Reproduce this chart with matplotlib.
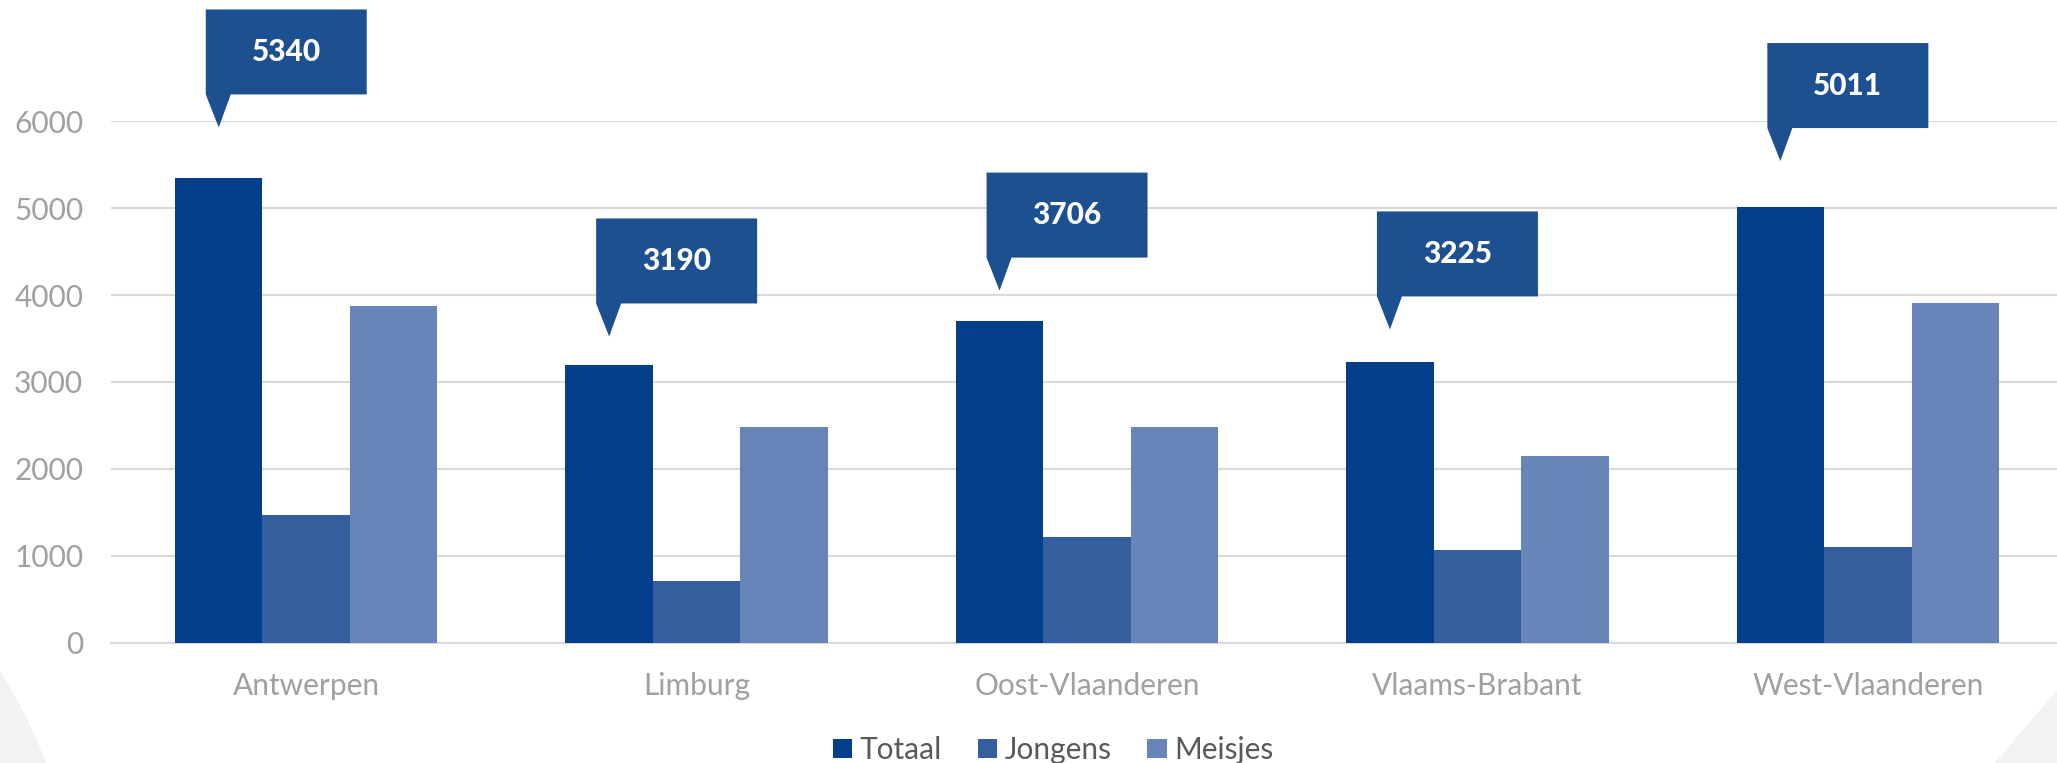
import numpy as np
import matplotlib
matplotlib.use("Agg")
import matplotlib.pyplot as plt
from matplotlib.patches import Polygon, Circle
from matplotlib.transforms import ScaledTranslation, Affine2D

plt.rcParams['font.family'] = ['Lato', 'DejaVu Sans']

provincies = ["Antwerpen", "Limburg", "Oost-Vlaanderen", "Vlaams-Brabant", "West-Vlaanderen"]
totaal = [5340, 3190, 3706, 3225, 5011]
jongens = [1466, 710, 1220, 1070, 1105]
meisjes = [3874, 2480, 2486, 2155, 3906]

kleuren = ["#023E8A", "#345E9E", "#6785B8"]
callout_kleur = "#1D5090"
# afstand (px) tussen bovenkant balk en punt van de callout
callout_gap = [51, 29, 30, 33, 46]

fig = plt.figure(figsize=(20.57, 7.63), dpi=100)

# grijze achtergrondvormen in de hoeken
fig.patches.append(Circle((-380, -157), 454, transform=None, facecolor="#F2F2F2",
                          edgecolor="none", zorder=0))
fig.patches.append(Polygon([(1995, 0), (2057, 73), (2057, 0)], closed=True, transform=None,
                           facecolor="#F2F2F2", edgecolor="none", zorder=0))

ax = fig.add_axes([111 / 2057, 0.1573, 1952 / 2057, 0.8414 - 0.1573])
ax.patch.set_alpha(0)

x = np.arange(len(provincies))
w = 0.224
ax.bar(x - w, totaal, w, color=kleuren[0], label="Totaal", zorder=3)
ax.bar(x, jongens, w, color=kleuren[1], label="Jongens", zorder=3)
ax.bar(x + w, meisjes, w, color=kleuren[2], label="Meisjes", zorder=3)

ax.set_xlim(-0.5, len(provincies) - 0.5)
ax.set_ylim(0, 6000)
ax.set_yticks(range(0, 6001, 1000))
ax.set_xticks(x)
ax.set_xticklabels(provincies)
ax.grid(axis="y", color="#D9D9D9", linewidth=1.5, zorder=0)
for s in ["top", "right", "left"]:
    ax.spines[s].set_visible(False)
ax.spines["bottom"].set_color("#D9D9D9")
ax.spines["bottom"].set_linewidth(1.5)
ax.tick_params(axis="both", length=0, labelsize=21.5, colors="#A0A0A0")
ax.tick_params(axis="y", pad=20)
ax.tick_params(axis="x", pad=21)

# callouts boven de totaal-balken
bw, bh, ph = 161, 85, 33
for i, val in enumerate(totaal):
    tr = Affine2D().translate(0, callout_gap[i]) + ScaledTranslation(x[i] - w, val, ax.transData)
    verts = [(0, 0), (-13, ph), (-13, ph + bh), (-13 + bw, ph + bh), (-13 + bw, ph), (12, ph)]
    ax.add_patch(Polygon(verts, closed=True, transform=tr, facecolor=callout_kleur,
                         edgecolor="none", clip_on=False, zorder=5))
    ax.text(-13 + bw / 2, ph + bh / 2, str(val), transform=tr, ha="center", va="center",
            color="white", fontsize=21.5, fontweight="black", zorder=6, clip_on=False)

fig.legend(loc="center", bbox_to_anchor=(1053 / 2057, 13 / 763), ncol=3, frameon=False,
           fontsize=21.5, labelcolor="#595959", handlelength=0.65, handleheight=0.65,
           handletextpad=0.25, columnspacing=1.2)

fig.savefig("out.png", dpi=100)
